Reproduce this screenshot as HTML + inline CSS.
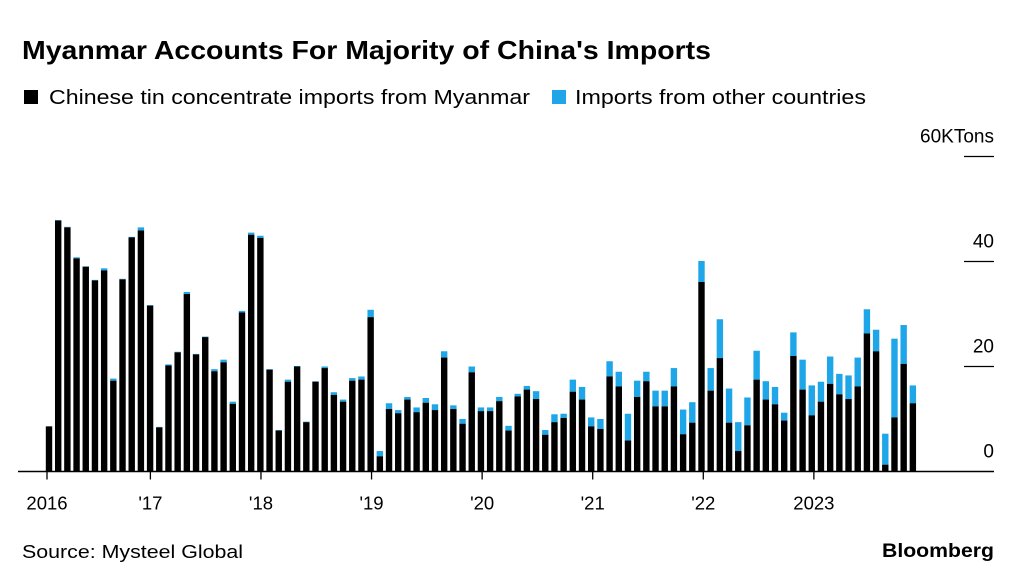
<!DOCTYPE html>
<html><head><meta charset="utf-8"><style>
html,body{margin:0;padding:0;background:#fff;}
body{width:1024px;height:585px;overflow:hidden;position:relative;font-family:"Liberation Sans",Arial,sans-serif;color:#000;}
svg{position:absolute;left:0;top:0;}
</style></head><body>
<svg width="1024" height="585" id="chart">
<text x="22" y="59" font-size="26" font-weight="bold" textLength="689" lengthAdjust="spacingAndGlyphs">Myanmar Accounts For Majority of China's Imports</text>
<rect x="24" y="90" width="14" height="14" fill="#000"/>
<text x="49" y="104" font-size="20" textLength="481" lengthAdjust="spacingAndGlyphs">Chinese tin concentrate imports from Myanmar</text>
<rect x="552" y="90" width="14" height="14" fill="#1fa6e8"/>
<text x="575" y="104" font-size="20" textLength="291" lengthAdjust="spacingAndGlyphs">Imports from other countries</text>
<text x="22" y="558" font-size="18" textLength="221" lengthAdjust="spacingAndGlyphs">Source: Mysteel Global</text>
<text x="994" y="557" font-size="19" font-weight="bold" text-anchor="end" textLength="112" lengthAdjust="spacingAndGlyphs">Bloomberg</text>
<g id="bars"></g><g id="axes"></g>
</svg>
<script>
const myanmar=[8.6,47.8,46.5,40.6,39,36.4,38.3,17.3,36.6,44.6,45.9,31.6,
8.4,20.2,22.7,33.8,22.3,25.6,19.1,20.8,12.9,30.3,45.1,44.5,
19.4,7.8,17.1,20,9.4,17.1,19.7,14.6,13.3,17.3,17.5,29.4,
2.9,11.9,11.1,13.7,11.3,13.1,11.7,21.7,11.9,9.1,18.9,11.5,
11.5,13.4,7.8,14.3,15.6,13.8,7.0,9.4,10.2,15.2,13.7,8.6,
8.1,18.1,16.2,5.9,14.2,17.2,12.4,12.4,16.2,7.1,9.3,36.1,
15.4,21.6,9.3,3.9,8.8,17.5,13.7,12.8,9.7,22,15.6,10.7,
13.3,16.7,14.7,13.8,16.2,26.3,22.9,1.3,10.3,20.5,13];
const totals=[8.6,47.9,46.6,40.8,39.1,36.5,38.7,17.7,36.7,44.7,46.5,31.7,
8.5,20.4,22.8,34.2,22.4,25.7,19.5,21.3,13.3,30.6,45.5,44.9,
19.5,7.9,17.5,20.1,9.5,17.2,20,15.1,13.7,17.8,18.1,30.8,
3.9,13,11.7,14.2,12.2,14,12.8,22.9,12.6,10,20,12.2,
12.2,14.2,8.7,14.8,16.3,15.3,7.9,10.9,11,17.5,16.1,10.3,
10,21,19,11,17.3,19,15.4,15.4,19.7,11.8,13.2,40.1,
19.7,29,15.8,9.4,14.1,23,17.2,16.1,11.2,26.5,21.3,16.4,
17.1,21.9,18.6,18.3,21.7,30.9,27,7.2,25.3,27.9,16.4];
const yTicks=[0,20,40,60];
const yTickLabels=["0","20","40","60KTons"];
const yearLabels=["2016","'17","'18","'19","'20","'21","'22","2023"];
const NS="http://www.w3.org/2000/svg";
const x0=49,step=9.19,y0=471.5,ppu=5.25,bw=6.4;
function xS(i){return x0+i*step;}
function yS(v){return y0-v*ppu;}
const bars=document.getElementById('bars'),axes=document.getElementById('axes');
function mk(tag,at,parent){const e=document.createElementNS(NS,tag);for(const k in at)e.setAttribute(k,at[k]);parent.appendChild(e);return e;}
myanmar.forEach((v,i)=>{
  const t=totals[i];
  if(t>v){const r=mk('rect',{x:xS(i)-bw/2,y:yS(t),width:bw,height:yS(v)-yS(t),fill:'#1fa6e8'},bars);
  
  }
  const b=mk('rect',{x:xS(i)-bw/2,y:yS(v),width:bw,height:y0-yS(v),fill:'#000'},bars);
  
  
});
const base=mk('line',{x1:18,x2:994,y1:y0,y2:y0,stroke:'#000','stroke-width':1.5},axes);


yTicks.forEach((v,k)=>{
  if(v>0){const g=mk('line',{x1:964,x2:994,y1:yS(v),y2:yS(v),stroke:'#000','stroke-width':1.3},axes);
  
  }
  const t=mk('text',{x:994,y:yS(v)-14,'font-size':19,'text-anchor':'end'},axes);
  t.textContent=yTickLabels[k];
  
  
});
yearLabels.forEach((lab,k)=>{
  const x=k===0?47:xS(12*k-1)+0.3*k;
  const tk=mk('line',{x1:x,x2:x,y1:y0,y2:y0+8,stroke:'#000','stroke-width':1.3},axes);
  
  
  const t=mk('text',{x:x,y:y0+38,'font-size':18.5,'text-anchor':'middle'},axes);
  t.textContent=lab;
  
  
});
</script>
</body></html>
